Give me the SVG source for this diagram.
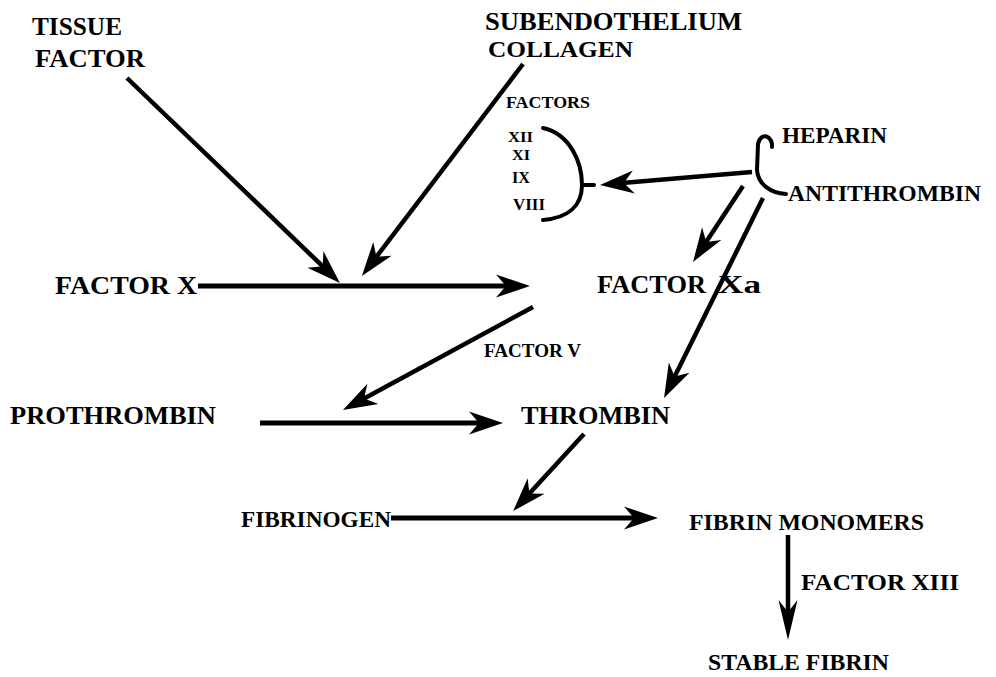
<svg xmlns="http://www.w3.org/2000/svg" width="996" height="677" viewBox="0 0 996 677">
<style>
text{font-family:"Liberation Serif","Times New Roman",serif;font-weight:bold;fill:#000;}
.big{font-size:26px;}
.mid{font-size:23px;}
.sm{font-size:17px;}
.xs{font-size:15px;}
.fv{font-size:19px;}
.ln{stroke:#000;stroke-width:4.5;fill:none;}
.thick{stroke-width:5;}
.br{stroke:#000;stroke-width:4;fill:none;stroke-linecap:round;}
</style>
<defs>
<marker id="ah" markerUnits="userSpaceOnUse" orient="auto" markerWidth="40" markerHeight="30" refX="0" refY="0" viewBox="-14 -13 40 26" overflow="visible">
<path d="M22,0 L-12,-11.5 L-2,0 L-12,11.5 Z" fill="#000"/>
</marker>
<marker id="ahv" markerUnits="userSpaceOnUse" orient="auto" markerWidth="50" markerHeight="30" refX="0" refY="0" viewBox="-20 -12 50 24" overflow="visible">
<path d="M22,0 L-18,-9.5 L-6,0 L-18,9.5 Z" fill="#000"/>
</marker>
</defs>
<rect width="996" height="677" fill="#fff"/>

<g id="tissue-factor">
<text class="big" x="32" y="35" textLength="90" lengthAdjust="spacingAndGlyphs">TISSUE</text>
<text class="big" x="35" y="67" textLength="110" lengthAdjust="spacingAndGlyphs">FACTOR</text>
</g>
<g id="subendothelium-collagen">
<text x="485" y="30" style="font-size:25px" textLength="257" lengthAdjust="spacingAndGlyphs">SUBENDOTHELIUM</text>
<text x="488" y="57" style="font-size:24px" textLength="145" lengthAdjust="spacingAndGlyphs">COLLAGEN</text>
</g>
<g id="factors">
<text class="sm" x="506" y="108" textLength="84" lengthAdjust="spacingAndGlyphs">FACTORS</text>
<text class="xs" x="508" y="142" textLength="25" lengthAdjust="spacingAndGlyphs">XII</text>
<text class="xs" x="512" y="160" textLength="18" lengthAdjust="spacingAndGlyphs">XI</text>
<text class="sm" x="512" y="183" textLength="18" lengthAdjust="spacingAndGlyphs">IX</text>
<text class="sm" x="513" y="210" textLength="32" lengthAdjust="spacingAndGlyphs">VIII</text>
<path class="br" d="M543,128 C570,134 582,162 582,185 C582,206 568,218 543,220"/>
<path class="br" d="M582,185 L594,185"/>
</g>
<g id="heparin-antithrombin">
<text class="mid" x="782" y="143" textLength="105" lengthAdjust="spacingAndGlyphs">HEPARIN</text>
<text class="mid" x="788" y="201" textLength="193" lengthAdjust="spacingAndGlyphs">ANTITHROMBIN</text>
<path class="br" d="M772,147 C773,136 761,131 758,144 L757,170 C758,184 770,193 786,194"/>
</g>
<g id="factor-x">
<text class="big" x="55" y="294" textLength="142" lengthAdjust="spacingAndGlyphs">FACTOR X</text>
</g>
<g id="factor-xa">
<text class="big" x="597" y="293" textLength="109" lengthAdjust="spacingAndGlyphs">FACTOR</text>
<text class="big" x="718" y="293" textLength="43" lengthAdjust="spacingAndGlyphs">Xa</text>
</g>
<g id="factor-v">
<text class="fv" x="484" y="357" textLength="97" lengthAdjust="spacingAndGlyphs">FACTOR  V</text>
</g>
<g id="prothrombin">
<text class="big" x="10" y="424" textLength="206" lengthAdjust="spacingAndGlyphs">PROTHROMBIN</text>
</g>
<g id="thrombin">
<text class="big" x="521" y="424" textLength="149" lengthAdjust="spacingAndGlyphs">THROMBIN</text>
</g>
<g id="fibrinogen">
<text class="mid" x="241" y="527" textLength="150" lengthAdjust="spacingAndGlyphs">FIBRINOGEN</text>
</g>
<g id="fibrin-monomers">
<text class="mid" x="689" y="530" textLength="235" lengthAdjust="spacingAndGlyphs">FIBRIN MONOMERS</text>
</g>
<g id="factor-xiii">
<text class="mid" x="801" y="590" textLength="158" lengthAdjust="spacingAndGlyphs">FACTOR  XIII</text>
</g>
<g id="stable-fibrin">
<text class="mid" x="708" y="670" textLength="181" lengthAdjust="spacingAndGlyphs">STABLE FIBRIN</text>
</g>

<g id="connectors">
<path class="ln" d="M127,78 L324.1,267.7" marker-end="url(#ah)"/>
<path class="ln" d="M523,64 L375.2,258.4" marker-end="url(#ah)"/>
<path class="ln thick" d="M198,286 L508,286" marker-end="url(#ah)"/>
<path class="ln" d="M752,172 L621.9,183.1" marker-end="url(#ah)"/>
<path class="ln" d="M743,186 L705.1,243.6" marker-end="url(#ah)"/>
<path class="ln" d="M763,198 L673.8,378.3" marker-end="url(#ah)"/>
<path class="ln" d="M533,307 L362.3,399.5" marker-end="url(#ah)"/>
<path class="ln thick" d="M260,423 L481,423" marker-end="url(#ah)"/>
<path class="ln" d="M584,434 L528,494.9" marker-end="url(#ah)"/>
<path class="ln thick" d="M391,518 L636,518" marker-end="url(#ah)"/>
<path class="ln" d="M788,535 L788,618" marker-end="url(#ahv)"/>
</g>
</svg>
